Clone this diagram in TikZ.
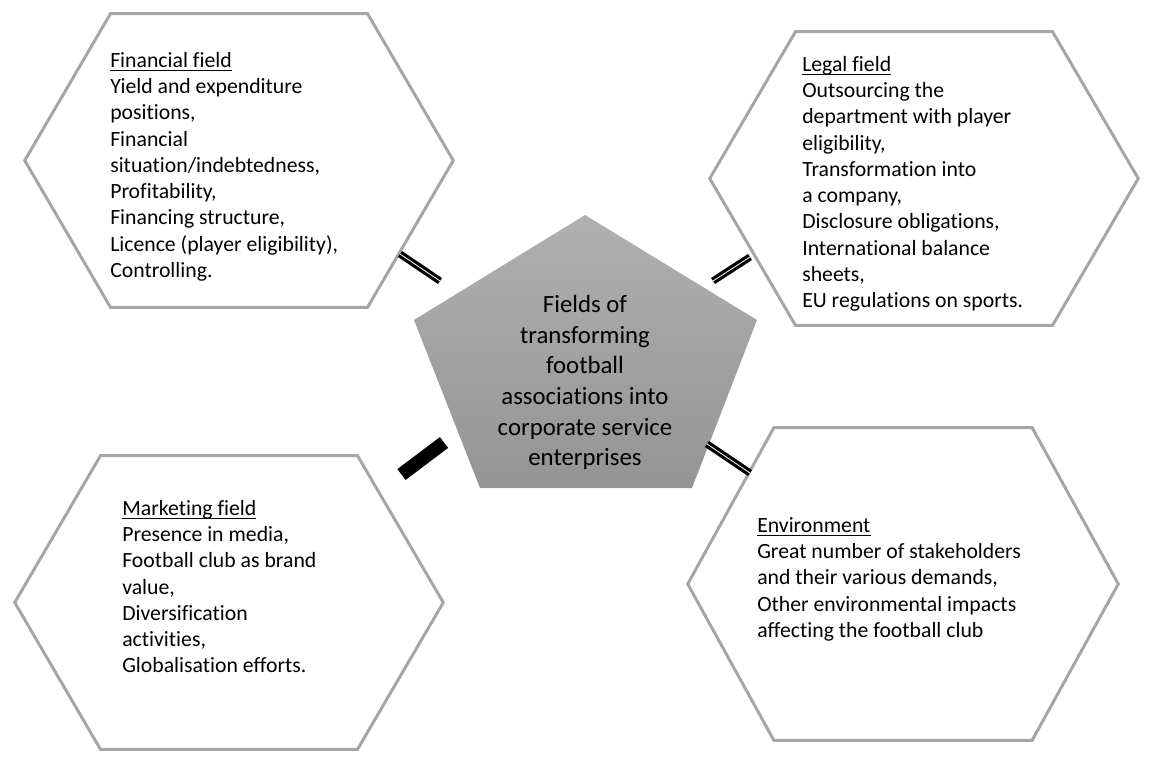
\documentclass[tikz,border=0pt]{standalone}
\usepackage{amsmath}
\usepackage{fontspec}
\setmainfont{Carlito}[Ligatures=NoCommon]
\usetikzlibrary{calc}

\newcommand\fieldtitle[1]{\underline{\smash[b]{#1}}}

\begin{document}
\begin{tikzpicture}[
    x=0.75pt, y=-0.75pt,
    hexbox/.style={rectangle, draw=none, inner sep=0pt, minimum width=321pt, minimum height=219.75pt},
    hexline/.style={draw=black!35, line width=2.25pt},
    fieldtext/.style={anchor=north west, inner sep=0pt, align=left, font=\fontsize{16.3}{19.7}\selectfont},
    coretext/.style={anchor=north, inner sep=0pt, align=center, font=\fontsize{18.6}{23}\selectfont},
    link/.style={line width=2.4pt, double=white, double distance=0.6pt},
    thicklink/.style={line width=10.2pt, draw=black}
]
\useasboundingbox (0,0) rectangle (1154,760);

% hexagon frames
\node[hexbox] (fin) at (239,160.5) {};
\node[hexbox] (legal) at (924,178.5) {};
\node[hexbox] (mkt) at (229,602.5) {};
\node[hexbox, minimum width=322.5pt, minimum height=234pt] (env) at (903,584) {};

\foreach \h in {fin,legal,mkt,env}
  \draw[hexline] (\h.west) -- ($(\h.north west)!0.2!(\h.north east)$) -- ($(\h.north east)!0.2!(\h.north west)$)
    -- (\h.east) -- ($(\h.south east)!0.2!(\h.south west)$) -- ($(\h.south west)!0.2!(\h.south east)$) -- cycle;

% central pentagon
\shade[top color=black!31, bottom color=black!42] (585,215) -- (757,320) -- (692,488) -- (480,488) -- (414,320) -- cycle;
\node[coretext] (core) at (585,295) {Fields of\\transforming\\football\\associations into\\corporate service\\enterprises};

% field texts
\node[fieldtext] (fintext) at (110,52) {\fieldtitle{Financial field}\\Yield and expenditure\\positions,\\Financial\\situation/indebtedness,\\Profitability,\\Financing structure,\\Licence (player eligibility),\\Controlling.};
\node[fieldtext] (legaltext) at (802,56) {\fieldtitle{Legal field}\\Outsourcing the\\department with player\\eligibility,\\Transformation into\\a company,\\Disclosure obligations,\\International balance\\sheets,\\EU regulations on sports.};
\node[fieldtext] (mkttext) at (122,500) {\fieldtitle{Marketing field}\\Presence in media,\\Football club as brand\\value,\\Diversification\\activities,\\Globalisation efforts.};
\node[fieldtext] (envtext) at (757,517) {\fieldtitle{Environment}\\Great number of stakeholders\\and their various demands,\\Other environmental impacts\\affecting the football club};

% ties
\coordinate (fin-tie) at (400,254);
\coordinate (core-fin) at (440,281);
\coordinate (legal-tie) at (750,257);
\coordinate (core-legal) at (713,281);
\coordinate (mkt-tie) at (401.5,474.5);
\coordinate (core-mkt) at (444,442.5);
\coordinate (env-tie) at (750,473);
\coordinate (core-env) at (707,444);

\draw[link] (fin-tie) -- (core-fin);
\draw[link] (core-legal) -- (legal-tie);
\draw[thicklink] (mkt-tie) -- (core-mkt);
\draw[link] (core-env) -- (env-tie);
\end{tikzpicture}
\end{document}
